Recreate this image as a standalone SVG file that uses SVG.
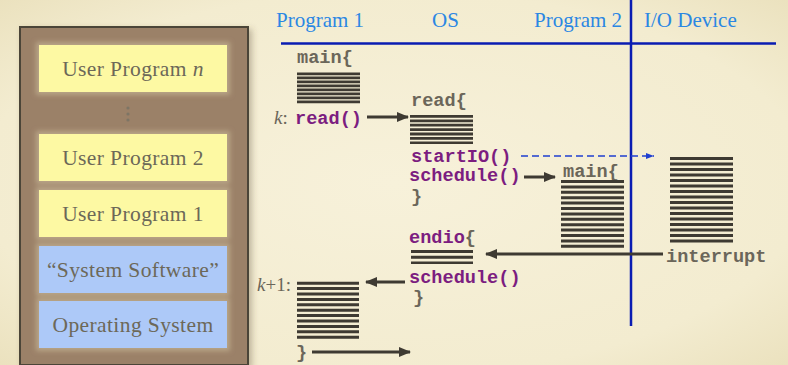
<svg xmlns="http://www.w3.org/2000/svg" width="788" height="365" viewBox="0 0 788 365">
  <defs>
    <radialGradient id="paper" cx="0.5" cy="0.5" r="0.75">
      <stop offset="0" stop-color="#f7f1da"/>
      <stop offset="0.7" stop-color="#f3ecd0"/>
      <stop offset="1" stop-color="#e9dfba"/>
    </radialGradient>
    <filter id="shadow" x="-10%" y="-10%" width="125%" height="125%">
      <feDropShadow dx="3" dy="3" stdDeviation="3" flood-color="#5a4a30" flood-opacity="0.35"/>
    </filter>
    <filter id="halo" x="-10%" y="-20%" width="120%" height="140%">
      <feGaussianBlur stdDeviation="2.5"/>
    </filter>
    <marker id="head" viewBox="0 0 12 10" refX="11" refY="5" markerWidth="12" markerHeight="10" markerUnits="userSpaceOnUse" orient="auto">
      <path d="M0,0 L12,5 L0,10 Z" fill="#3e3a32"/>
    </marker>
    <marker id="headBlue" viewBox="0 0 8 6" refX="8" refY="3" markerWidth="8" markerHeight="6" markerUnits="userSpaceOnUse" orient="auto">
      <path d="M0,0 L8,3 L0,6 Z" fill="#1f3fd0"/>
    </marker>
  </defs>
  <style>
    .hdr { font-family: "Liberation Serif", "Times New Roman", serif; font-size: 21px; fill: #2b87e3; }
    .box { stroke: none; }
    .user { fill: #fdf9a3; }
    .sys { fill: #adc9f8; }
    .boxtxt { font-family: "Liberation Serif", "Times New Roman", serif; font-size: 21.5px; fill: #6c6858; text-anchor: middle; letter-spacing: 0.4px; }
    .code { font-family: "Liberation Mono", "Courier New", monospace; font-weight: bold; font-size: 18.6px; }
    .grey { fill: #6b665a; }
    .purple { fill: #7c1d80; }
    .label { font-family: "Liberation Serif", "Times New Roman", serif; font-size: 19px; fill: #6b665a; }
    .bars { stroke: #3e3a32; fill: none; }
    .rule { stroke: #0a1cb2; stroke-width: 2.5; fill: none; }
    .arrow { stroke: #3e3a32; stroke-width: 3; fill: none; marker-end: url(#head); }
    .dashed { stroke: #1f3fd0; stroke-width: 1.4; stroke-dasharray: 7 4; fill: none; marker-end: url(#headBlue); }
  </style>

  <!-- page background -->
  <rect x="0" y="0" width="788" height="365" fill="url(#paper)"/>

  <!-- memory layout panel -->
  <g id="memory">
    <rect x="20" y="27" width="228" height="338" fill="#9b8168" stroke="#4b4438" stroke-width="2" filter="url(#shadow)"/>
    <g filter="url(#halo)" fill="#b9a587">
      <rect x="36" y="42" width="194" height="53"/>
      <rect x="36" y="131" width="194" height="53"/>
      <rect x="36" y="187" width="194" height="53"/>
      <rect x="36" y="243" width="194" height="53"/>
      <rect x="36" y="298" width="194" height="53"/>
    </g>
    <g id="user-n">
      <rect class="box user" x="39" y="45" width="188" height="47"/>
      <text class="boxtxt" x="133" y="76">User Program <tspan font-style="italic">n</tspan></text>
    </g>
    <g id="dots" fill="#7d7565">
      <circle cx="128" cy="108" r="1.6"/>
      <circle cx="128" cy="114" r="1.6"/>
      <circle cx="128" cy="120" r="1.6"/>
    </g>
    <g id="user-2">
      <rect class="box user" x="39" y="134" width="188" height="47"/>
      <text class="boxtxt" x="133" y="165">User Program 2</text>
    </g>
    <g id="user-1">
      <rect class="box user" x="39" y="190" width="188" height="47"/>
      <text class="boxtxt" x="133" y="221">User Program 1</text>
    </g>
    <g id="system-software">
      <rect class="box sys" x="39" y="246" width="188" height="47"/>
      <text class="boxtxt" x="133" y="277">“System Software”</text>
    </g>
    <g id="operating-system">
      <rect class="box sys" x="39" y="301" width="188" height="47"/>
      <text class="boxtxt" x="133" y="332">Operating System</text>
    </g>
  </g>

  <!-- timeline headers and rules -->
  <g id="headers">
    <text class="hdr" x="276" y="27">Program 1</text>
    <text class="hdr" x="432" y="27">OS</text>
    <text class="hdr" x="534" y="27">Program 2</text>
    <text class="hdr" x="644" y="27">I/O Device</text>
    <line class="rule" x1="281" y1="43.5" x2="776" y2="43.5"/>
    <line class="rule" x1="631" y1="0" x2="631" y2="326"/>
  </g>

  <!-- Program 1 before the read -->
  <g id="prog1-main">
    <text class="code grey" x="297" y="63">main{</text>
    <line class="bars" x1="328.5" y1="72.5" x2="328.5" y2="103.3" stroke-width="63" stroke-dasharray="2.8 1.2"/>
    <text class="label" x="274" y="124"><tspan font-style="italic">k</tspan>:</text>
    <text class="code purple" x="295" y="124">read()</text>
  </g>

  <!-- OS read handler -->
  <g id="os-read">
    <text class="code grey" x="411" y="106">read{</text>
    <line class="bars" x1="441.5" y1="115" x2="441.5" y2="144" stroke-width="63" stroke-dasharray="2.8 1.6"/>
    <text class="code purple" x="411" y="162">startIO()</text>
    <text class="code purple" x="409" y="181">schedule()</text>
    <text class="code grey" x="411" y="202">}</text>
  </g>

  <!-- Program 2 runs -->
  <g id="prog2-main">
    <text class="code grey" x="563" y="177">main{</text>
    <line class="bars" x1="592.5" y1="180" x2="592.5" y2="248" stroke-width="63" stroke-dasharray="3 2.4"/>
  </g>

  <!-- I/O device activity -->
  <g id="io-device">
    <line class="bars" x1="701.5" y1="157" x2="701.5" y2="243" stroke-width="63" stroke-dasharray="3 2.5"/>
    <text class="code grey" x="666" y="262">interrupt</text>
  </g>

  <!-- OS interrupt handler -->
  <g id="os-endio">
    <text class="code" x="409" y="243"><tspan class="purple">endio</tspan><tspan class="grey">{</tspan></text>
    <line class="bars" x1="442" y1="250" x2="442" y2="264" stroke-width="62" stroke-dasharray="3 2.7"/>
    <text class="code purple" x="409" y="283">schedule()</text>
    <text class="code grey" x="413" y="303">}</text>
  </g>

  <!-- Program 1 resumes -->
  <g id="prog1-resume">
    <text class="label" x="257" y="291"><tspan font-style="italic">k</tspan>+1:</text>
    <line class="bars" x1="328" y1="281.7" x2="328" y2="338.7" stroke-width="62" stroke-dasharray="3 2.4"/>
    <text class="code grey" x="296" y="358">}</text>
  </g>

  <!-- control transfers -->
  <g id="connectors">
    <line class="arrow" x1="367" y1="117" x2="408" y2="117"/>
    <line class="dashed" x1="521" y1="156" x2="654" y2="156"/>
    <line class="arrow" x1="524" y1="177" x2="555" y2="177"/>
    <line class="arrow" x1="663" y1="254" x2="486" y2="254"/>
    <line class="arrow" x1="405" y1="282" x2="366" y2="282"/>
    <line class="arrow" x1="312" y1="352" x2="410" y2="352"/>
  </g>
</svg>
